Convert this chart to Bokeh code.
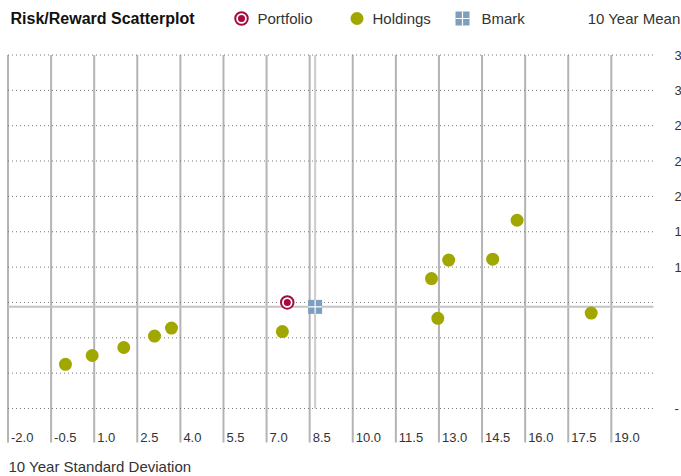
from bokeh.plotting import figure
from bokeh.models import Range1d
from bokeh.core.properties import value
from bokeh.embed import file_html
from bokeh.resources import INLINE

# ---------------- data ----------------
x_ticks = [-2.0, -0.5, 1.0, 2.5, 4.0, 5.5, 7.0, 8.5, 10.0, 11.5, 13.0, 14.5, 16.0, 17.5, 19.0]
x_tick_labels = ["-2.0", "-0.5", "1.0", "2.5", "4.0", "5.5", "7.0", "8.5", "10.0",
                 "11.5", "13.0", "14.5", "16.0", "17.5", "19.0"]
y_ticks = [-0.4, 0.0, 0.4, 0.8, 1.2, 1.6, 2.0, 2.4, 2.8, 3.2, 3.6]
y_tick_labels = ["-", "", "", "", "1", "1", "2", "2", "2", "3", "3"]

hold_x = [0.00, 0.93, 2.03, 3.10, 3.69, 7.55, 12.74, 13.34, 12.96, 14.87, 15.72, 18.30]
hold_y = [0.10, 0.20, 0.29, 0.42, 0.51, 0.47, 1.07, 1.28, 0.62, 1.29, 1.73, 0.68]
port_x = [7.72]
port_y = [0.80]
bench_x = [8.69]
bench_y = [0.75]

title_text = "Risk/Reward Scatterplot"
legend_labels = ["Portfolio", "Holdings", "Bmark"]
y_title = "10 Year Mean"
x_title = "10 Year Standard Deviation"

# ---------------- layout ----------------
W, H = 681, 476
PPX = 28.73            # pixels per x unit
PPY = 353.5 / 4.0      # pixels per y unit
X0_PX, Y0_PX = 7.5, 408.0   # pixel position of x=-2.0 and y=-0.4
x_lo = -2.0 - X0_PX / PPX
x_hi = x_lo + W / PPX
y_hi = -0.4 + Y0_PX / PPY
y_lo = y_hi - H / PPY


def sx(px):
    return x_lo + px / PPX


def sy(py):
    return y_hi - py / PPY


grid_top = y_ticks[-1]
grid_bottom = sy(442)
grid_right = sx(653)

FONT = value("Liberation Sans")
TXT = "#333333"
OLIVE = "#a0a800"
MAROON = "#a50b3d"
BLUE = "#7d9dc1"

p = figure(width=W, height=H, output_backend="svg", toolbar_location=None,
           x_range=Range1d(x_lo, x_hi), y_range=Range1d(y_lo, y_hi),
           min_border=0, min_border_left=0, min_border_right=0,
           min_border_top=0, min_border_bottom=0)
p.axis.visible = False
p.grid.visible = False
p.outline_line_color = None
p.background_fill_color = "white"
p.border_fill_color = "white"

# vertical grid lines
p.segment(x0=x_ticks, y0=[grid_bottom] * len(x_ticks), x1=x_ticks, y1=[grid_top] * len(x_ticks),
          line_color="#b4b4b4", line_width=2)
# horizontal dotted grid lines
p.segment(x0=[x_ticks[0]] * len(y_ticks), y0=y_ticks, x1=[grid_right] * len(y_ticks), y1=y_ticks,
          line_color="#7a7a7a", line_width=1, line_dash="1 3")
# benchmark crosshair
p.segment(x0=bench_x, y0=[y_ticks[0]], x1=bench_x, y1=[grid_top], line_color="#cccccc", line_width=2)
p.segment(x0=[x_ticks[0]], y0=bench_y, x1=[grid_right], y1=bench_y, line_color="#c4c4c4", line_width=2)

# holdings
p.scatter(hold_x, hold_y, size=13, fill_color=OLIVE, line_color=None)
# portfolio
p.scatter(port_x, port_y, size=12.5, fill_color="white", line_color=MAROON, line_width=2)
p.scatter(port_x, port_y, size=7, fill_color=MAROON, line_color=None)
# benchmark
p.scatter(bench_x, bench_y, marker="square", size=14, fill_color=BLUE, line_color=None)
p.scatter(bench_x, bench_y, marker="cross", size=14, line_color="white", line_width=1.2)

# x tick labels
p.text(x=x_ticks, y=[sy(437)] * len(x_ticks), text=x_tick_labels, x_offset=3,
       text_font=FONT, text_font_size=value("13px"), text_color=TXT,
       text_align="left", text_baseline="middle")
# y tick labels (right side)
p.text(x=[sx(674)] * len(y_ticks), y=y_ticks, text=y_tick_labels,
       text_font=FONT, text_font_size=value("13px"), text_color=TXT,
       text_align="left", text_baseline="middle")

# header
p.text(x=[sx(10)], y=[sy(18)], text=[title_text], text_font=FONT,
       text_font_size=value("16px"), text_font_style="bold", text_color="#111111",
       text_align="left", text_baseline="middle")
# legend icons
p.scatter([sx(241)], [sy(18)], size=12.5, fill_color="white", line_color=MAROON, line_width=2)
p.scatter([sx(241)], [sy(18)], size=7, fill_color=MAROON, line_color=None)
p.scatter([sx(356.5)], [sy(18)], size=13, fill_color=OLIVE, line_color=None)
p.scatter([sx(462)], [sy(18)], marker="square", size=14, fill_color=BLUE, line_color=None)
p.scatter([sx(462)], [sy(18)], marker="cross", size=14, line_color="white", line_width=1.2)
p.text(x=[sx(257), sx(372), sx(481)], y=[sy(18)] * 3, text=legend_labels, text_font=FONT,
       text_font_size=value("15px"), text_color=TXT, text_align="left", text_baseline="middle")
p.text(x=[sx(680)], y=[sy(18)], text=[y_title], text_font=FONT,
       text_font_size=value("15px"), text_color=TXT, text_align="right", text_baseline="middle")
# x axis title
p.text(x=[sx(8)], y=[sy(466)], text=[x_title], text_font=FONT,
       text_font_size=value("15px"), text_color=TXT, text_align="left", text_baseline="middle")

open("out.html", "w").write(file_html(p, INLINE))
